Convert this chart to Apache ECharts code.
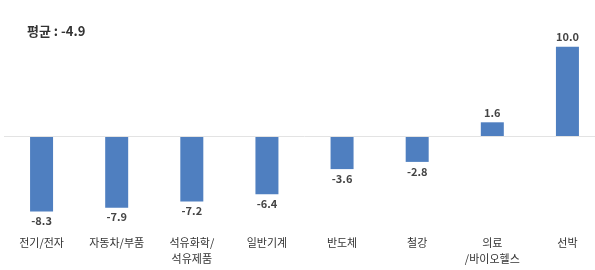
<!DOCTYPE html>
<html><head><meta charset="utf-8">
<script src="https://cdn.jsdelivr.net/npm/echarts@6/dist/echarts.min.js"></script>
<style>html,body{margin:0;padding:0;background:#fff;overflow:hidden;}#c{width:605px;height:270px;}</style>
</head><body><div id="c"></div>
<script>
const categories = ['전기/전자', '자동차/부품', '석유화학/\n석유제품', '일반기계', '반도체', '철강', '의료\n/바이오헬스', '선박'];
const values = [-8.3, -7.9, -7.2, -6.4, -3.6, -2.8, 1.6, 10.0];
const titleText = '평균 : -4.9';

const font = '"Noto Sans CJK KR", "Noto Sans", sans-serif';
const chart = echarts.init(document.getElementById('c'), null, {renderer: 'canvas'});
chart.setOption({
  animation: false,
  backgroundColor: '#fff',
  title: {
    text: titleText, left: 22, top: 20,
    textStyle: {fontFamily: font, fontSize: 13, fontWeight: 'bold', color: '#333'}
  },
  grid: {left: 4, right: 0, top: 46.7, bottom: 43.3, containLabel: false},
  xAxis: {
    type: 'category', data: categories,
    axisLine: {show: false}, axisTick: {show: false},
    axisLabel: {fontFamily: font, fontSize: 11, color: '#333', margin: 8, lineHeight: 16, interval: 0}
  },
  yAxis: {type: 'value', min: -10, max: 10, show: false, splitLine: {show: false}},
  series: [{
    type: 'bar', barWidth: 23,
    itemStyle: {color: '#4f7fc0'},
    data: values.map(v => ({value: v, label: {position: v < 0 ? 'bottom' : 'top'}})),
    label: {show: true, distance: 4, fontFamily: font, fontSize: 11, fontWeight: 'bold', color: '#444',
      formatter: p => p.value.toFixed(1)},
    markLine: {
      silent: true, symbol: 'none', label: {show: false},
      lineStyle: {color: '#e3e3e3', width: 1, type: 'solid'},
      data: [{yAxis: 0}]
    }
  }]
});
</script></body></html>
